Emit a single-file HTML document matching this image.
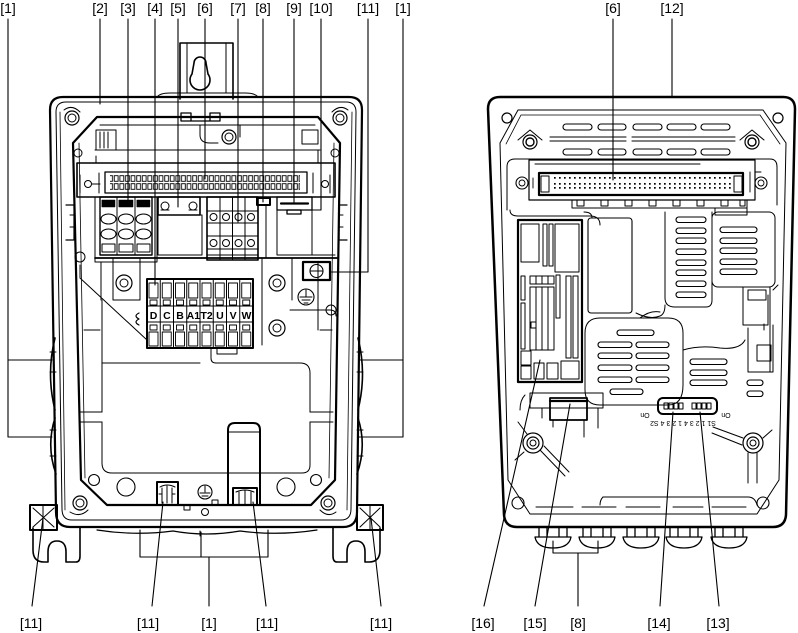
<!DOCTYPE html>
<html><head><meta charset="utf-8">
<style>
html,body{margin:0;padding:0;background:#fff;}
svg{display:block;}
text{font-family:"Liberation Sans",Arial,sans-serif;fill:#000;stroke:none;}
</style></head><body>
<svg width="798" height="633" viewBox="0 0 798 633" xmlns="http://www.w3.org/2000/svg">
<defs>
<pattern id="pins" width="5.6" height="8" patternUnits="userSpaceOnUse" x="108" y="175">
<rect x="0.7" y="0.7" width="3.8" height="5.6" fill="none" stroke="#000" stroke-width="0.9"/>
</pattern>
<pattern id="dots" width="5" height="10" patternUnits="userSpaceOnUse" x="548" y="176">
<rect x="1" y="1" width="1.7" height="1.7" fill="#000"/>
<rect x="1" y="7" width="1.7" height="1.7" fill="#000"/>
</pattern>
</defs>

<g fill="none" stroke="#000" stroke-linejoin="round" stroke-linecap="round">

<!-- ================= LEFT DEVICE ================= -->
<path d="M180,99 V43 H233 V99" stroke-width="1.6"/>
<path d="M187,43 V93 M226,43 V93" stroke-width="1"/>
<path d="M194,63 A6,6 0 1 1 206,63 L208,74 A10,10 0 1 1 192,74 Z" stroke-width="1.6"/>
<path d="M157,97 Q160,93 170,93 L245,93 Q255,93 258,97" stroke-width="1"/>

<path d="M63,97 L349,97 Q362,97 362,110 L357,512 Q357,527 343,527 L70,527 Q56,527 56,512 L50,110 Q50,97 63,97 Z" stroke-width="2.2"/>
<path d="M66,102 L346,102 Q356,102 356,112 L351,509 Q351,520 341,520 L72,520 Q62,520 62,509 L56,112 Q56,102 66,102 Z" stroke-width="1"/>
<path d="M60,112 L65,510 M352,112 L347,510" stroke-width="0.8"/>
<path d="M55,338 Q46,374 55,410 M55,418 Q46,446 56,474" stroke-width="1.6"/>
<path d="M358,338 Q367,374 358,410 M358,418 Q367,446 357,474" stroke-width="1.6"/>
<path d="M50,352 h6 M50,372 h6 M50,430 h6 M50,456 h6 M357,352 h6 M357,372 h6 M357,430 h6 M357,456 h6" stroke-width="1"/>

<circle cx="72" cy="118" r="7" stroke-width="1.2"/><circle cx="72" cy="118" r="4" stroke-width="1"/>
<circle cx="340" cy="118" r="7" stroke-width="1.2"/><circle cx="340" cy="118" r="4" stroke-width="1"/>
<circle cx="80" cy="503" r="7" stroke-width="1.2"/><circle cx="80" cy="503" r="4" stroke-width="1"/>
<circle cx="328" cy="503" r="7" stroke-width="1.2"/><circle cx="328" cy="503" r="4" stroke-width="1"/>
<path d="M64,110 Q72,104 80,112 M348,110 Q340,104 332,112 M70,512 Q80,518 88,510 M320,510 Q328,518 336,512" stroke-width="1"/>

<path d="M97,117 L318,117 L340,143 L335,480 L311,505 L107,505 L81,480 L73,143 Z" stroke-width="2.2"/>
<path d="M79,143 L85,478 M334,143 L329,478" stroke-width="0.8"/>

<path d="M100,125 H315" stroke-width="1"/>
<path d="M96,130 h20 v20 h-20 z M100,132 v16 M104,132 v16 M108,132 v16" stroke-width="1"/>
<path d="M181,113 h10 v8 h-10 z M210,113 h10 v8 h-10 z M190,121 h30" stroke-width="1.3"/>
<circle cx="229" cy="137" r="7" stroke-width="1.2"/><circle cx="229" cy="137" r="4" stroke-width="1"/>
<path d="M200,125 v10 q0,8 10,8 h8 M240,125 v12" stroke-width="1"/>
<path d="M95,150 H320 M96,156 V163 M318,150 V163" stroke-width="1"/>
<path d="M302,130 h16 v14 h-16 z" stroke-width="1"/>
<circle cx="78" cy="153" r="4" stroke-width="1"/><circle cx="335" cy="153" r="4" stroke-width="1"/>

<rect x="77" y="163" width="258" height="34" stroke-width="1.6"/>
<rect x="105" y="172" width="202" height="21" stroke-width="1.3"/>
<rect x="110" y="175" width="190" height="16" fill="url(#pins)" stroke="none"/>
<circle cx="88" cy="184" r="3.5" stroke-width="1"/>
<path d="M92,184 h8 M80,175 v18 M99,173 v20" stroke-width="1"/>
<circle cx="325" cy="184" r="3.5" stroke-width="1"/>
<path d="M313,173 v20 M330,175 v18" stroke-width="1"/>

<rect x="100" y="197" width="52" height="58" stroke-width="1.4"/>
<path d="M117,197 V255 M135,197 V255" stroke-width="1"/>
<path d="M102,200 h13 v7 h-13 z M119,200 h14 v7 h-14 z M137,200 h13 v7 h-13 z" fill="#000" stroke-width="0.5"/>
<ellipse cx="108.5" cy="219" rx="7.5" ry="5" stroke-width="1.1"/>
<ellipse cx="126" cy="219" rx="7.5" ry="5" stroke-width="1.1"/>
<ellipse cx="143.5" cy="219" rx="7.5" ry="5" stroke-width="1.1"/>
<ellipse cx="108.5" cy="234" rx="7.5" ry="5" stroke-width="1.1"/>
<ellipse cx="126" cy="234" rx="7.5" ry="5" stroke-width="1.1"/>
<ellipse cx="143.5" cy="234" rx="7.5" ry="5" stroke-width="1.1"/>
<path d="M102,244 h13 v8 h-13 z M119,244 h14 v8 h-14 z M137,244 h13 v8 h-13 z" stroke-width="1"/>
<path d="M95,197 V262 H157 V197" stroke-width="1"/>

<rect x="158" y="197" width="42" height="18" stroke-width="1.6"/>
<circle cx="165" cy="206" r="4" stroke-width="1"/><circle cx="193" cy="206" r="4" stroke-width="1"/>
<path d="M161,210 h8 M189,210 h8" stroke-width="1"/>
<rect x="158" y="215" width="44" height="40" stroke-width="1"/>

<rect x="207" y="197" width="51" height="63" stroke-width="1.6"/>
<path d="M220,197 V260 M232.5,197 V260 M245,197 V260" stroke-width="1"/>
<path d="M207,211 H258 M207,223 H258 M207,236 H258 M207,249 H258 M207,255 H258" stroke-width="1"/>
<circle cx="213.5" cy="217" r="3.5" stroke-width="1"/><circle cx="226" cy="217" r="3.5" stroke-width="1"/>
<circle cx="238.5" cy="217" r="3.5" stroke-width="1"/><circle cx="251" cy="217" r="3.5" stroke-width="1"/>
<circle cx="213.5" cy="243" r="3.5" stroke-width="1"/><circle cx="226" cy="243" r="3.5" stroke-width="1"/>
<circle cx="238.5" cy="243" r="3.5" stroke-width="1"/><circle cx="251" cy="243" r="3.5" stroke-width="1"/>

<rect x="257" y="198" width="13" height="7" stroke-width="2"/>
<rect x="277" y="197" width="35" height="13" stroke-width="1.3"/>
<path d="M281,203.5 H308" stroke-width="2.2"/>
<rect x="287" y="210" width="14" height="4" stroke-width="1.3"/>
<path d="M258,205 V258 M266,205 V258 M277,210 V255 H335 M312,210 V255" stroke-width="1"/>

<path d="M95,258 H337" stroke-width="1.8"/>
<path d="M113,258 V300 H140 V258 M262,258 V345 M292,258 V300" stroke-width="1"/>
<circle cx="124" cy="283" r="8" stroke-width="1.2"/><circle cx="124" cy="283" r="4" stroke-width="1"/>
<circle cx="277" cy="283" r="8" stroke-width="1.2"/><circle cx="277" cy="283" r="4" stroke-width="1"/>
<circle cx="277" cy="328" r="8" stroke-width="1.2"/><circle cx="277" cy="328" r="4" stroke-width="1"/>
<circle cx="80" cy="257" r="5" stroke-width="1"/>
<circle cx="331" cy="310" r="5" stroke-width="1"/>
<path d="M80,265 V278 L147,340" stroke-width="1"/>
<path d="M139,313 q-6,3 0,6 q-6,3 0,6" stroke-width="1.2"/>
<path d="M101,262 V300 M318,262 V330 M290,310 H330 Q336,310 336,316" stroke-width="1"/>
<path d="M66,205 h8 v35 h-8 M347,205 h-8 v35 h8" stroke-width="1.2"/>
<path d="M70,215 h4 v12 h-4 M343,215 h-4 v12 h4" stroke-width="1"/>

<rect x="147" y="279" width="106" height="69" stroke-width="2"/>
<path d="M160.25,279 V348 M173.5,279 V348 M186.75,279 V348 M200,279 V348 M213.25,279 V348 M226.5,279 V348 M239.75,279 V348" stroke-width="1"/>
<path d="M147,306 H253 M147,322 H253" stroke-width="1"/>
<path d="M149,283 h9 v15 h-9 z M162.25,283 h9 v15 h-9 z M175.5,283 h9 v15 h-9 z M188.75,283 h9 v15 h-9 z M202,283 h9 v15 h-9 z M215.25,283 h9 v15 h-9 z M228.5,283 h9 v15 h-9 z M241.75,283 h9 v15 h-9 z" stroke-width="0.9"/>
<path d="M150,300 h7 v5 h-7 z M163.25,300 h7 v5 h-7 z M176.5,300 h7 v5 h-7 z M189.75,300 h7 v5 h-7 z M203,300 h7 v5 h-7 z M216.25,300 h7 v5 h-7 z M229.5,300 h7 v5 h-7 z M242.75,300 h7 v5 h-7 z" stroke-width="0.9"/>
<path d="M150,325 h7 v5 h-7 z M163.25,325 h7 v5 h-7 z M176.5,325 h7 v5 h-7 z M189.75,325 h7 v5 h-7 z M203,325 h7 v5 h-7 z M216.25,325 h7 v5 h-7 z M229.5,325 h7 v5 h-7 z M242.75,325 h7 v5 h-7 z" stroke-width="0.9"/>
<path d="M149,332 h9 v14 h-9 z M162.25,332 h9 v14 h-9 z M175.5,332 h9 v14 h-9 z M188.75,332 h9 v14 h-9 z M202,332 h9 v14 h-9 z M215.25,332 h9 v14 h-9 z M228.5,332 h9 v14 h-9 z M241.75,332 h9 v14 h-9 z" stroke-width="0.9"/>
<path d="M217,348 v6 h20 v-6" stroke-width="1"/>

<rect x="303" y="262" width="27" height="18" stroke-width="2.2"/>
<circle cx="316.5" cy="271" r="6.5" stroke-width="1.1"/>
<path d="M310,271 H323" stroke-width="1"/>
<circle cx="306" cy="297" r="8" stroke-width="1.1"/>
<path d="M306,290 V297 M300,297 H312 M302,300 H310 M304,303 H308" stroke-width="1"/>

<!-- lower region -->
<path d="M102,300 V412 M102,422 V463 Q102,473 112,473 H302 Q310,473 310,465 V422 M310,412 V373 Q310,363 300,363 H216 Q211,363 211,358 V348 M102,363 H200" stroke-width="1"/>
<path d="M80,412 H102 M80,422 H102 M310,412 H333 M310,422 H333" stroke-width="1"/>
<path d="M84,330 H100 M320,330 H332" stroke-width="1"/>
<path d="M228,505 V430 Q228,423 235,423 H253 Q260,423 260,430 V505" stroke-width="2"/>
<path d="M229,432 H259" stroke-width="0.9"/>
<path d="M157,505 V482 H178 V505" stroke-width="2"/>
<path d="M160,487 Q167,483 175,487 M162,488 V503 M167,486 V503 M172,488 V503 M159,494 h3 M175,494 h-3" stroke-width="1"/>
<path d="M233,505 V488 H257 V505" stroke-width="2"/>
<path d="M236,492 Q245,488 254,492 M239,492 V504 M245,490 V504 M251,492 V504" stroke-width="1"/>
<circle cx="126" cy="487" r="9" stroke-width="1.1"/>
<circle cx="286" cy="487" r="9" stroke-width="1.1"/>
<circle cx="94" cy="480" r="5.5" stroke-width="1.1"/>
<circle cx="316" cy="480" r="5.5" stroke-width="1.1"/>
<circle cx="205" cy="492" r="7" stroke-width="1.1"/>
<path d="M205,486 V492 M200,493 H210 M202,496 H208" stroke-width="1"/>
<circle cx="205" cy="512" r="3.5" stroke-width="1"/>
<path d="M178,505 h6 v5 h6 v-5 M212,505 v-5 h6 v5 h6 M220,505 h8" stroke-width="1"/>

<path d="M97,530 Q135,536 173,531 M173,531 Q206,537 240,531 M240,531 Q278,536 317,530" stroke-width="1.2"/>
<path d="M140,531 v4 M200,531 v5 M268,531 v4" stroke-width="1"/>

<path d="M33,528 V550 Q33,562 44,562 L48,562 L48,552 Q48,541 57,541 Q66,541 66,552 V562 L76,562 Q80,562 80,556 V528" stroke-width="1.6"/>
<path d="M380,528 V550 Q380,562 369,562 L365,562 L365,552 Q365,541 356,541 Q347,541 347,552 V562 L337,562 Q333,562 333,556 V528" stroke-width="1.6"/>
<rect x="30" y="505" width="27" height="25" stroke-width="2"/>
<path d="M33,508 L54,527 M54,508 L33,527 M43,505 V530" stroke-width="1"/>
<rect x="357" y="505" width="26" height="25" stroke-width="2"/>
<path d="M360,508 L380,527 M380,508 L360,527 M370,505 V530" stroke-width="1"/>

<g stroke-width="1.1">
<path d="M8,19 V437 H52 M8,360 H52"/>
<path d="M403,19 V437 H359 M403,360 H359"/>
<path d="M100,19 V104"/>
<path d="M128,19 V201"/>
<path d="M155,19 V285"/>
<path d="M178,19 V207"/>
<path d="M205,19 V179"/>
<path d="M238,19 V222"/>
<path d="M263,19 V202"/>
<path d="M294,19 V203"/>
<path d="M321,19 V210 H298"/>
<path d="M368,19 V272 H330"/>
<path d="M32,606 L43,518"/>
<path d="M152,606 L163,502"/>
<path d="M140,530 V557 H268 V530 M201,532 V557 M209,557 V606"/>
<path d="M266,606 L253,502"/>
<path d="M381,606 L371,518"/>
</g>

<!-- ================= RIGHT DEVICE ================= -->
<path d="M500,97 L783,97 Q795,97 795,109 L786,515 Q785,527 773,527 L517,527 Q505,527 504,515 L488,109 Q488,97 500,97 Z" stroke-width="2.5"/>
<path d="M518,110 L763,110 L786,143 L779,480 L757,514 L530,514 L508,480 L500,143 Z" stroke-width="1"/>
<path d="M521,115 L760,115 L780,144 M506,144 L521,115" stroke-width="0.8"/>
<circle cx="507" cy="118" r="5" stroke-width="1.2"/>
<circle cx="778" cy="118" r="5" stroke-width="1.2"/>
<circle cx="530" cy="142" r="7" stroke-width="1.2"/><circle cx="530" cy="142" r="4" stroke-width="1.4"/>
<circle cx="752" cy="142" r="7" stroke-width="1.2"/><circle cx="752" cy="142" r="4" stroke-width="1.4"/>
<path d="M518,140 L530,130 L542,140 M740,140 L752,130 L764,140" stroke-width="1"/>

<g stroke-width="1.1">
<rect x="563" y="124" width="29" height="6" rx="3"/>
<rect x="598" y="124" width="28" height="6" rx="3"/>
<rect x="633" y="124" width="29" height="6" rx="3"/>
<rect x="667" y="124" width="29" height="6" rx="3"/>
<rect x="701" y="124" width="29" height="6" rx="3"/>
<rect x="563" y="149" width="29" height="6" rx="3"/>
<rect x="598" y="149" width="28" height="6" rx="3"/>
<rect x="633" y="149" width="29" height="6" rx="3"/>
<rect x="667" y="149" width="29" height="6" rx="3"/>
<rect x="701" y="149" width="29" height="6" rx="3"/>
<path d="M550,137 H626 M632,137 H735 M550,141 H626 M632,141 H735"/>
</g>

<path d="M515,159 H770 Q777,159 777,167 V205 M507,210 V167 Q507,159 515,159" stroke-width="1"/>
<rect x="529" y="160" width="226" height="40" stroke-width="1.2"/>
<path d="M535,164 H700" stroke-width="1"/>
<circle cx="522" cy="183" r="6" stroke-width="1.1"/><circle cx="522" cy="183" r="3" stroke-width="0.9"/>
<circle cx="761" cy="183" r="6" stroke-width="1.1"/><circle cx="761" cy="183" r="3" stroke-width="0.9"/>
<rect x="539" y="173" width="204" height="22" stroke-width="2.2"/>
<rect x="541" y="176" width="8" height="16" stroke-width="1"/>
<rect x="734" y="176" width="8" height="16" stroke-width="1"/>
<rect x="552" y="176" width="180" height="16" fill="url(#dots)" stroke="none"/>
<path d="M533,178 v10 M750,172 v20 M755,172 h6" stroke-width="0.9"/>
<path d="M572,200 V208 H747 V200" stroke-width="1"/>
<path d="M577,200 h7 v6 h-7 z M601,200 h7 v6 h-7 z M625,200 h7 v6 h-7 z M649,200 h7 v6 h-7 z M673,200 h7 v6 h-7 z M697,200 h7 v6 h-7 z M721,200 h7 v6 h-7 z M740,200 h5 v6 h-5 z" stroke-width="1"/>
<path d="M715,208 V215 H747 V208" stroke-width="1"/>
<path d="M510,210 Q510,216 518,216 H590 Q600,216 600,225" stroke-width="1"/>

<rect x="518" y="220" width="64" height="162" stroke-width="2.2"/>
<rect x="521" y="224" width="18" height="38" stroke-width="1"/>
<rect x="543" y="224" width="4" height="42" stroke-width="1"/>
<rect x="549" y="224" width="4" height="42" stroke-width="1"/>
<rect x="555" y="224" width="24" height="48" stroke-width="1"/>
<rect x="521" y="276" width="4" height="24" stroke-width="1"/>
<rect x="521" y="303" width="4" height="46" stroke-width="1"/>
<path d="M530,276 h24 v8 h-24 z M536,276 v8 M542,276 v8 M548,276 v8" stroke-width="1"/>
<path d="M530,287 h24 v63 h-24 z M536,287 v63 M542,287 v63 M548,287 v63" stroke-width="1"/>
<rect x="556" y="275" width="4" height="43" stroke-width="1"/>
<rect x="566" y="276" width="5" height="82" stroke-width="1"/>
<rect x="573" y="276" width="5" height="82" stroke-width="1"/>
<rect x="531" y="322" width="5" height="6" stroke-width="1"/>
<rect x="521" y="351" width="10" height="14" stroke-width="1"/>
<rect x="521" y="366" width="10" height="13" stroke-width="1"/>
<rect x="547" y="363" width="11" height="16" stroke-width="1"/>
<rect x="561" y="361" width="18" height="18" stroke-width="1"/>
<path d="M534,363 h10 v16 h-10 z" stroke-width="1"/>

<rect x="588" y="218" width="44" height="95" rx="3" stroke-width="1.1"/>
<path d="M584,212 Q592,212 592,218 M636,313 Q650,320 660,316 Q665,314 665,305" stroke-width="1"/>

<path d="M665,212 V298 Q665,307 675,307 H706 Q712,307 712,300 V212" stroke-width="1"/>
<rect x="712" y="212" width="63" height="75" rx="6" stroke-width="1"/>
<g stroke-width="1.1">
<rect x="676" y="217" width="30" height="5.5" rx="2.75"/>
<rect x="676" y="228" width="30" height="5.5" rx="2.75"/>
<rect x="676" y="238" width="30" height="5.5" rx="2.75"/>
<rect x="676" y="249" width="30" height="5.5" rx="2.75"/>
<rect x="676" y="260" width="30" height="5.5" rx="2.75"/>
<rect x="676" y="270" width="30" height="5.5" rx="2.75"/>
<rect x="676" y="281" width="30" height="5.5" rx="2.75"/>
<rect x="676" y="292" width="30" height="5.5" rx="2.75"/>
<rect x="720" y="227" width="37" height="5.5" rx="2.75"/>
<rect x="720" y="238" width="37" height="5.5" rx="2.75"/>
<rect x="720" y="248" width="37" height="5.5" rx="2.75"/>
<rect x="720" y="259" width="37" height="5.5" rx="2.75"/>
<rect x="720" y="269" width="37" height="5.5" rx="2.75"/>
</g>
<path d="M600,318 H668 Q683,318 683,333 V385 Q683,405 668,405 H600 Q585,405 585,390 V333 Q585,318 600,318 Z" stroke-width="1"/>
<g stroke-width="1.1">
<rect x="617" y="330" width="37" height="5.5" rx="2.75"/>
<rect x="598" y="342" width="34" height="5.5" rx="2.75"/>
<rect x="636" y="342" width="33" height="5.5" rx="2.75"/>
<rect x="598" y="353" width="34" height="5.5" rx="2.75"/>
<rect x="636" y="353" width="33" height="5.5" rx="2.75"/>
<rect x="598" y="365" width="34" height="5.5" rx="2.75"/>
<rect x="636" y="365" width="33" height="5.5" rx="2.75"/>
<rect x="598" y="377" width="34" height="5.5" rx="2.75"/>
<rect x="636" y="377" width="33" height="5.5" rx="2.75"/>
<rect x="610" y="389" width="33" height="5.5" rx="2.75"/>
<rect x="690" y="359" width="37" height="5.5" rx="2.75"/>
<rect x="690" y="370" width="37" height="5.5" rx="2.75"/>
<rect x="690" y="380" width="37" height="5.5" rx="2.75"/>
<rect x="747" y="380" width="16" height="5.5" rx="2.75"/>
<rect x="747" y="391" width="16" height="5.5" rx="2.75"/>
</g>
<path d="M683,350 Q700,345 720,348 Q740,350 745,340 M640,318 Q650,310 660,312" stroke-width="1"/>

<path d="M743,287 V325 H768 V295 M748,290 h18 v10 h-18 z M748,328 V372 H773 V325 M757,345 h14 v16 h-14 z M770,287 V372" stroke-width="1"/>
<path d="M773,290 L778,285 M764,330 v-6" stroke-width="1"/>

<rect x="658" y="398" width="59" height="16" rx="5" stroke-width="2"/>
<path d="M664,403 h4 v6 h-4 z M669,403 h4 v6 h-4 z M674,403 h4 v6 h-4 z M679,403 h4 v6 h-4 z M692,403 h4 v6 h-4 z M697,403 h4 v6 h-4 z M702,403 h4 v6 h-4 z M707,403 h4 v6 h-4 z" stroke-width="1"/>

<path d="M530,393 H603 V408 H530 Z" stroke-width="1"/>
<rect x="550" y="398" width="37" height="22" stroke-width="1.8"/>
<path d="M550,401 H587" stroke-width="2.2"/>
<path d="M553,420 v7 M584,420 v17 M542,408 v10 M598,408 v20" stroke-width="1"/>
<path d="M525,395 Q520,400 520,410" stroke-width="1"/>

<circle cx="533" cy="443" r="10" stroke-width="1.2"/><circle cx="533" cy="443" r="6" stroke-width="1.2"/><circle cx="533" cy="443" r="3" stroke-width="1"/>
<path d="M540,450 L565,476 M544,446 L569,472 M527,434 L518,422 M524,452 L515,460" stroke-width="1"/>
<circle cx="753" cy="443" r="10" stroke-width="1.2"/><circle cx="753" cy="443" r="6" stroke-width="1.2"/><circle cx="753" cy="443" r="3" stroke-width="1"/>
<path d="M743,438 L713,427 M742,445 L712,433 M748,453 V483 M757,453 V483 M763,438 L772,430" stroke-width="1"/>

<circle cx="518" cy="503" r="6" stroke-width="1.1"/>
<circle cx="763" cy="503" r="6" stroke-width="1.1"/>
<path d="M603,497 H748 Q755,497 757,505" stroke-width="1"/>
<path d="M536,507 h37 M582,507 h34 M626,507 h34 M673,507 h30 M712,507 h34" stroke-width="1"/>
<path d="M603,497 Q600,500 600,505" stroke-width="1"/>

<g stroke-width="1.3">
<path d="M539,527 V537 H567 V527 M535,537 H571 Q569,548 553,548 Q537,548 535,537 Z M547,527 v10 M559,527 v10"/>
<path d="M583,527 V537 H611 V527 M579,537 H615 Q613,548 597,548 Q581,548 579,537 Z M591,527 v10 M603,527 v10"/>
<path d="M627,527 V537 H655 V527 M623,537 H659 Q657,548 641,548 Q625,548 623,537 Z M635,527 v10 M647,527 v10"/>
<path d="M670,527 V537 H698 V527 M666,537 H702 Q700,548 684,548 Q668,548 666,537 Z M678,527 v10 M690,527 v10"/>
<path d="M715,527 V537 H743 V527 M711,537 H747 Q745,548 729,548 Q713,548 711,537 Z M723,527 v10 M735,527 v10"/>
</g>

<g stroke-width="1.1">
<path d="M613,19 V180"/>
<path d="M672,19 V97"/>
<path d="M484,606 L540,360"/>
<path d="M535,606 L570,404"/>
<path d="M553,541 V553 H598 V541 M578,553 V606"/>
<path d="M660,606 L673,412"/>
<path d="M719,606 L700,412"/>
</g>
</g>

<text transform="translate(683,421) rotate(180)" font-size="7" text-anchor="middle">S1 1 2 3 4 1 2 3 4 S2</text>
<text transform="translate(645,413) rotate(180)" font-size="7" text-anchor="middle">On</text>
<text transform="translate(726,413) rotate(180)" font-size="7" text-anchor="middle">On</text>

<g font-size="10.5" font-weight="bold" text-anchor="middle">
<text x="153.6" y="319">D</text>
<text x="166.9" y="319">C</text>
<text x="180.1" y="319">B</text>
<text x="193.4" y="319">A1</text>
<text x="206.6" y="319">T2</text>
<text x="219.9" y="319">U</text>
<text x="233.1" y="319">V</text>
<text x="246.4" y="319">W</text>
</g>

<g font-size="14" text-anchor="middle">
<text x="8" y="13">[1]</text>
<text x="100" y="13">[2]</text>
<text x="128" y="13">[3]</text>
<text x="155" y="13">[4]</text>
<text x="178" y="13">[5]</text>
<text x="205" y="13">[6]</text>
<text x="238" y="13">[7]</text>
<text x="263" y="13">[8]</text>
<text x="294" y="13">[9]</text>
<text x="321" y="13">[10]</text>
<text x="368" y="13">[11]</text>
<text x="403" y="13">[1]</text>
<text x="613" y="13">[6]</text>
<text x="672" y="13">[12]</text>
<text x="31" y="628">[11]</text>
<text x="148" y="628">[11]</text>
<text x="209" y="628">[1]</text>
<text x="267" y="628">[11]</text>
<text x="381" y="628">[11]</text>
<text x="483" y="628">[16]</text>
<text x="535" y="628">[15]</text>
<text x="578" y="628">[8]</text>
<text x="659" y="628">[14]</text>
<text x="718" y="628">[13]</text>
</g>
</svg>
</body></html>
